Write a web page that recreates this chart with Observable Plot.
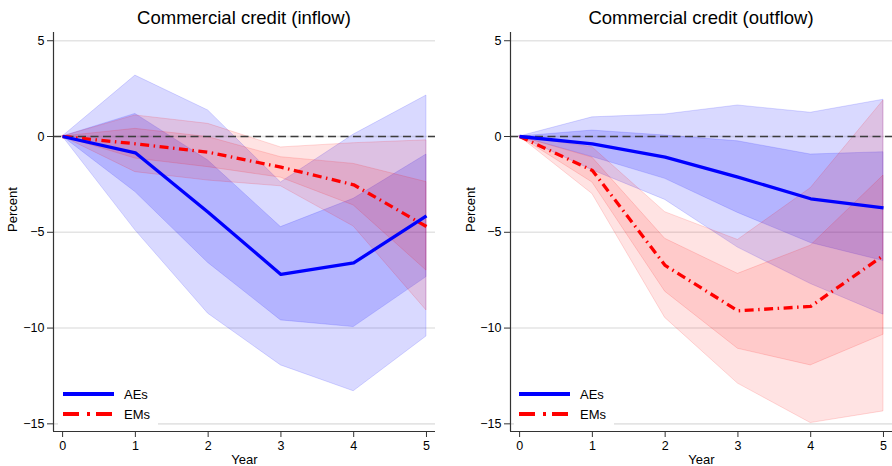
<!DOCTYPE html>
<html>
<head>
<meta charset="utf-8">
<script src="https://cdn.jsdelivr.net/npm/d3@7"></script>
<script src="https://cdn.jsdelivr.net/npm/@observablehq/plot@0.6"></script>
<style>
  html, body { margin: 0; padding: 0; background: #fff; }
  #wrap { position: relative; width: 892px; height: 466px; display: flex; font-family: "Liberation Sans", Arial, Helvetica, sans-serif; overflow: hidden; }
  .panel { position: relative; width: 446px; height: 466px; }
  .title { height: 30px; box-sizing: border-box; padding-top: 9px; font-size: 18.5px; line-height: 18.5px; text-align: center; color: #000; white-space: nowrap; }
  .legend { position: absolute; background: #fff; width: 100px; height: 46px; }
  .legend .row { position: absolute; left: 0; height: 16px; display: flex; align-items: center; font-size: 13px; color: #000; }
  .legend svg { display: block; }
</style>
</head>
<body>
<div id="wrap"></div>
<script>
// ---------- data ----------
const years = [0, 1, 2, 3, 4, 5];
const yTicks = [-15, -10, -5, 0, 5];
const seriesNames = ["AEs", "EMs"];
const seriesColors = ["#0000ff", "#ff0000"];
const panelTitles = ["Commercial credit (inflow)", "Commercial credit (outflow)"];

// Inflow panel
const inflowAE       = [0, -0.85, -3.95, -7.20, -6.60, -4.14];
const inflowAE_inLo  = [0, -2.90, -6.60, -9.60, -9.95, -7.34];
const inflowAE_inHi  = [0,  1.18, -1.25, -4.73, -3.25, -0.94];
const inflowAE_outLo = [0, -4.90, -9.25, -11.95, -13.30, -10.44];
const inflowAE_outHi = [0,  3.18,  1.36, -2.40,  0.10,  2.14];

const inflowEM       = [0, -0.38, -0.82, -1.60, -2.52, -4.70];
const inflowEM_inLo  = [0, -1.15, -1.60, -2.15, -3.60, -7.00];
const inflowEM_inHi  = [0,  0.40, -0.03, -1.08, -1.43, -2.38];
const inflowEM_outLo = [0, -1.86, -2.30, -2.60, -4.70, -9.08];
const inflowEM_outHi = [0,  1.10,  0.66, -0.57, -0.35, -0.20];

// Outflow panel
const outflowAE       = [0, -0.38, -1.08, -2.12, -3.25, -3.72];
const outflowAE_inLo  = [0, -1.07, -2.21, -3.99, -5.56, -6.50];
const outflowAE_inHi  = [0,  0.31,  0.05, -0.25, -0.94, -0.82];
const outflowAE_outLo = [0, -1.76, -3.31, -5.80, -7.70, -9.30];
const outflowAE_outHi = [0,  1.00,  1.15,  1.62,  1.24,  1.92];

const outflowEM       = [0, -1.77, -6.73, -9.10, -8.87, -6.21];
const outflowEM_inLo  = [0, -2.40, -8.10, -11.08, -11.95, -10.35];
const outflowEM_inHi  = [0, -1.10, -5.34, -7.17, -5.70, -2.04];
const outflowEM_outLo = [0, -3.00, -9.47, -12.90, -14.96, -14.35];
const outflowEM_outHi = [0, -0.56, -3.95, -5.40, -2.70,  1.88];

// ---------- build tables ----------
function rows(series, est, inLo, inHi, outLo, outHi) {
  return years.map((yr, i) => ({year: yr, series, est: est[i], inLo: inLo[i], inHi: inHi[i], outLo: outLo[i], outHi: outHi[i]}));
}
const panels = [
  {
    title: panelTitles[0],
    data: [...rows("AEs", inflowAE, inflowAE_inLo, inflowAE_inHi, inflowAE_outLo, inflowAE_outHi),
           ...rows("EMs", inflowEM, inflowEM_inLo, inflowEM_inHi, inflowEM_outLo, inflowEM_outHi)],
    marginLeft: 53, marginRight: 11, percentDx: -41, legendLeft: 58
  },
  {
    title: panelTitles[1],
    data: [...rows("AEs", outflowAE, outflowAE_inLo, outflowAE_inHi, outflowAE_outLo, outflowAE_outHi),
           ...rows("EMs", outflowEM, outflowEM_inLo, outflowEM_inHi, outflowEM_outLo, outflowEM_outHi)],
    marginLeft: 64, marginRight: 0, percentDx: -40, legendLeft: 68
  }
];

const xDomain = [-0.125, 5.124];
const yDomain = [-15.4, 5.43];
const bandStyle = {
  AEs: {outer: 0.15, inner: 0.17},
  EMs: {outer: 0.11, inner: 0.11}
};
const lineDash = {AEs: null, EMs: "9 4.5 1.5 4.5"};
const legendDash = {AEs: null, EMs: "16 8 3 6"};

const wrap = document.getElementById("wrap");

panels.forEach((p) => {
  const panel = document.createElement("div");
  panel.className = "panel";
  const t = document.createElement("div");
  t.className = "title";
  t.style.marginLeft = p.marginLeft + "px";
  t.style.width = (446 - p.marginLeft - p.marginRight) + "px";
  t.textContent = p.title;
  panel.appendChild(t);

  const bands = [];
  seriesNames.forEach((s, si) => {
    const c = seriesColors[si];
    bands.push(Plot.areaY(p.data.filter(d => d.series === s), {
      x: "year", y1: "outLo", y2: "outHi", fill: c, fillOpacity: bandStyle[s].outer,
      stroke: c, strokeOpacity: 0.18, strokeWidth: 0.8
    }));
    bands.push(Plot.areaY(p.data.filter(d => d.series === s), {
      x: "year", y1: "inLo", y2: "inHi", fill: c, fillOpacity: bandStyle[s].inner,
      stroke: c, strokeOpacity: 0.18, strokeWidth: 0.8
    }));
  });

  const lines = [];
  [1, 0].forEach(si => {
    const s = seriesNames[si];
    lines.push(Plot.line(p.data.filter(d => d.series === s), {
      x: "year", y: "est", stroke: seriesColors[si], strokeWidth: 3.3,
      strokeDasharray: lineDash[s], strokeLinecap: "butt", strokeLinejoin: "round"
    }));
  });

  const chart = Plot.plot({
    width: 446, height: 436,
    marginTop: 2, marginBottom: 35, marginLeft: p.marginLeft, marginRight: p.marginRight,
    style: {fontFamily: '"Liberation Sans", Arial, Helvetica, sans-serif', fontSize: "12.5px", overflow: "visible", background: "transparent"},
    x: {domain: xDomain},
    y: {domain: yDomain},
    marks: [
      Plot.gridY(yTicks, {stroke: "#e4e4e4", strokeOpacity: 1, strokeWidth: 1.6}),
      ...bands,
      Plot.ruleY([0], {stroke: "#3c3c3c", strokeWidth: 1.3, strokeDasharray: "8 4.5"}),
      ...lines,
      Plot.ruleX([xDomain[0]], {stroke: "#333", strokeWidth: 1.2}),
      Plot.ruleY([yDomain[0]], {stroke: "#333", strokeWidth: 1.2}),
      Plot.axisY({ticks: yTicks, tickSize: 6, tickPadding: 3, label: null, stroke: "#333", fill: "#000", fontSize: 12.5}),
      Plot.axisX({ticks: years, tickSize: 6, tickPadding: 4, label: null, stroke: "#333", fill: "#000", fontSize: 12.5, tickFormat: d => String(d)}),
      Plot.text(["Percent"], {frameAnchor: "left", dx: p.percentDx, rotate: -90, fontSize: 13, fill: "#000"}),
      Plot.text(["Year"], {frameAnchor: "bottom", dy: 28, fontSize: 13, fill: "#000", lineAnchor: "middle"})
    ]
  });
  panel.appendChild(chart);

  // legend
  const lg = document.createElement("div");
  lg.className = "legend";
  lg.style.left = p.legendLeft + "px";
  lg.style.top = "382px";
  seriesNames.forEach((s, si) => {
    const row = document.createElement("div");
    row.className = "row";
    row.style.top = (4 + si * 20) + "px";
    const ns = "http://www.w3.org/2000/svg";
    const sv = document.createElementNS(ns, "svg");
    sv.setAttribute("width", "61");
    sv.setAttribute("height", "16");
    const ln = document.createElementNS(ns, "line");
    ln.setAttribute("x1", "5"); ln.setAttribute("x2", "56");
    ln.setAttribute("y1", "8"); ln.setAttribute("y2", "8");
    ln.setAttribute("stroke", seriesColors[si]);
    ln.setAttribute("stroke-width", "4");
    if (legendDash[s]) ln.setAttribute("stroke-dasharray", legendDash[s]);
    sv.appendChild(ln);
    row.appendChild(sv);
    const tx = document.createElement("span");
    tx.style.marginLeft = "5px";
    tx.textContent = s;
    row.appendChild(tx);
    lg.appendChild(row);
  });
  panel.appendChild(lg);

  wrap.appendChild(panel);
});
</script>
</body>
</html>
